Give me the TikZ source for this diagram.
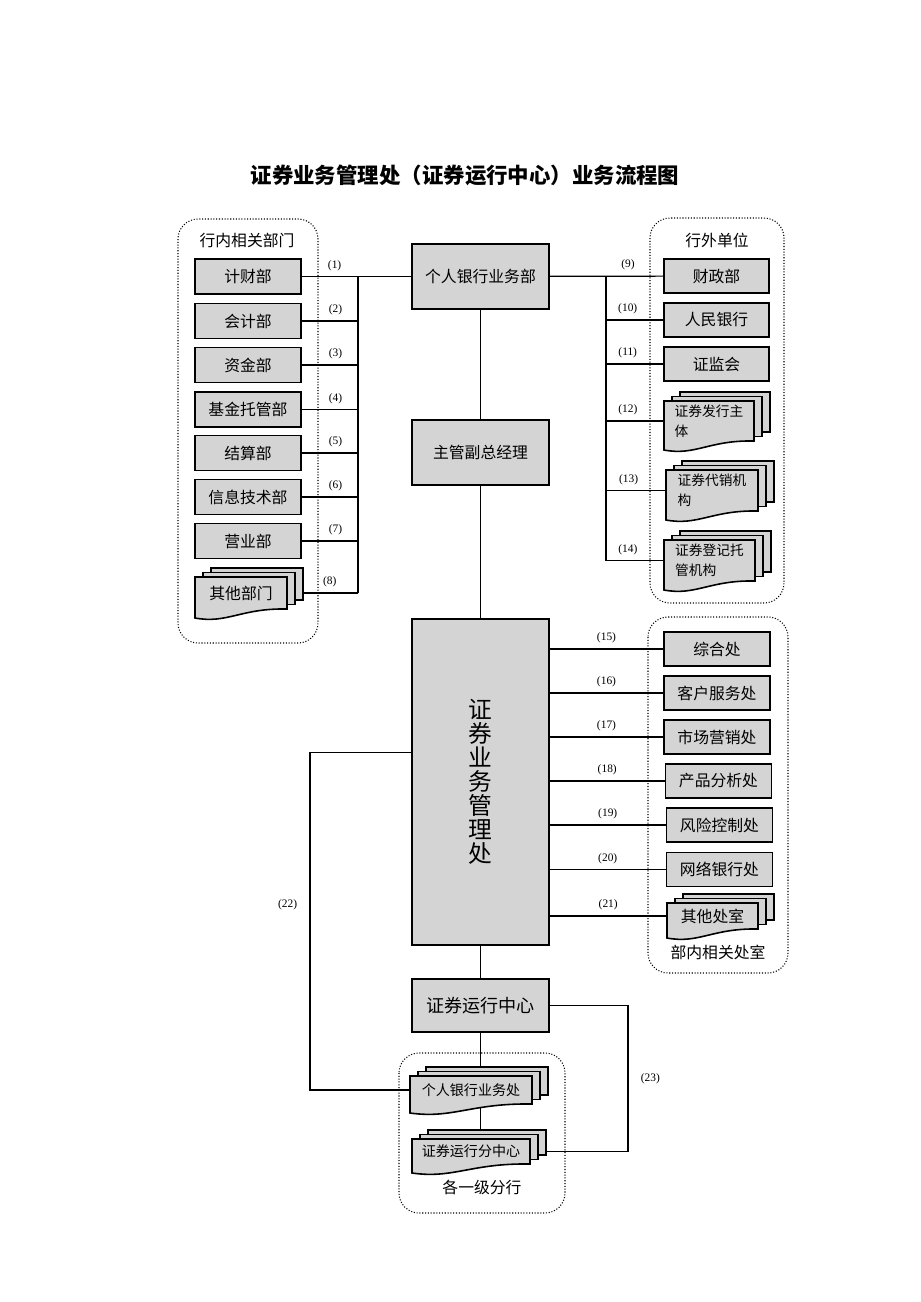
\documentclass[tikz,border=0pt]{standalone}
\usepackage{fontspec}
\setmainfont{Noto Sans CJK SC}
\newfontfamily\numfont{Liberation Serif}
\usepackage{tikz}
\usetikzlibrary{backgrounds, calc}

\tikzset{
  box/.style={draw, line width=0.9pt, fill=black!17, minimum width=2.12cm, minimum height=0.7cm, inner sep=1pt, font=\fontsize{9}{11}\selectfont},
  bigbox/.style={box, minimum width=2.74cm, minimum height=1.3cm},
  sheet/.style={draw, line width=0.9pt, fill=black!17},
  sheettext/.style={inner sep=0pt, align=left, font=\fontsize{9}{11}\selectfont},
  link/.style={line width=0.7pt},
  lab/.style={font=\numfont\fontsize{6.5}{8}\selectfont, inner sep=1pt},
  grp/.style={densely dotted, line width=0.6pt, rounded corners=0.4cm},
  grptitle/.style={font=\fontsize{9}{11}\selectfont},
}

% pilha de documentos: [fonte]{nome}{x1}{y1}{x2}{y2}{texto}
\newcommand{\docstack}[7][]{%
  \foreach \k in {2,1}
    \filldraw[sheet] ({#3+8*\k},{#4-4.5*\k}) rectangle ({#5+8*\k},{#6-9-4.5*\k});
  \filldraw[sheet] (#3,#4) -- (#5,#4) -- (#5,#6-9)
    .. controls ({#5-0.5*(#5-#3)},{#6-10}) and ({#3+0.35*(#5-#3)},{#6+6}) .. (#3,#6) -- cycle;
  \node[sheettext, minimum width={(#5-#3)*0.02cm}, #1] (#2) at ({(#3+#5)/2},{(#4+#6-9)/2}) {#7};
  \coordinate (#2-e) at ({#5+16},{(#4+#6-9)/2});
}

\begin{document}
\begin{tikzpicture}[x=0.02cm, y=-0.02cm]
  \useasboundingbox (0,0) rectangle (920,1302);

  % Titulo
  \node[font=\fontsize{12.2}{14}\selectfont\bfseries] (title) at (465,175) {证券业务管理处（证券运行中心）业务流程图};

  % Grupos pontilhados
  \draw[grp] (178,219) rectangle (318,643);
  \draw[grp] (650,218) rectangle (784,603);
  \draw[grp] (648,617) rectangle (788,973);
  \draw[grp] (399,1053) rectangle (565,1213);
  \node[grptitle] (gin) at (247,240) {行内相关部门};
  \node[grptitle] (gout) at (717,240) {行外单位};
  \node[grptitle] (gdep) at (718,952) {部内相关处室};
  \node[grptitle] (gbr) at (482,1187) {各一级分行};

  % Coluna central
  \node[bigbox] (prb) at (480.5,276.5) {个人银行业务部};
  \node[bigbox] (vgm) at (480.5,452.5) {主管副总经理};
  \node[bigbox, minimum height=6.52cm, align=center, font=\fontsize{13.5}{13.7}\selectfont] (zgc) at (480.5,782) {证\\券\\业\\务\\管\\理\\处};
  \node[bigbox, minimum height=1.06cm, font=\fontsize{10.3}{12}\selectfont] (yxzx) at (480.5,1005.5) {证券运行中心};

  % Departamentos do banco
  \foreach \n/\t/\y in {jcb/计财部/276.5, kjb/会计部/321, zjb/资金部/365, jjtg/基金托管部/409.5, jsb/结算部/453, xxjs/信息技术部/497, yyb/营业部/541}
    \node[box] (\n) at (248,\y) {\t};
  \docstack{qtbm}{195}{577}{287}{618}{其他部门}

  % Unidades externas
  \foreach \n/\t/\y in {czb/财政部/276, rmyh/人民银行/320, zjh/证监会/364}
    \node[box, minimum width=2.1cm, minimum height=0.68cm] (\n) at (716.5,\y) {\t};
  \docstack[font=\fontsize{7.8}{11.3}\selectfont]{fxzt}{664}{401}{754}{450}{证券发行主\\体}
  \docstack[font=\fontsize{7.8}{11.3}\selectfont]{dxjg}{666}{470}{758}{520}{证券代销机\\构}
  \docstack[font=\fontsize{7.8}{11.3}\selectfont]{djtg}{664}{540}{755}{590}{证券登记托\\管机构}

  % Secoes do departamento
  \foreach \n/\t/\x/\y in {zhc/综合处/717/649, khfw/客户服务处/717/693, scyx/市场营销处/717/737, cpfx/产品分析处/718.5/781, fxkz/风险控制处/719.5/825, wlyh/网络银行处/719.5/869.5}
    \node[box, minimum height=0.68cm] (\n) at (\x,\y) {\t};
  \docstack{qtcs}{667}{903}{758}{938}{其他处室}

  % Agencias
  \docstack[font=\fontsize{8}{10}\selectfont]{grb}{410}{1076}{532}{1113}{个人银行业务处}
  \docstack[font=\fontsize{8}{10}\selectfont]{fzx}{412}{1139}{530}{1173}{证券运行分中心}

  % Pontos auxiliares
  \coordinate (lbus) at (358,0);
  \coordinate (rbus) at (606,0);
  \coordinate (lft) at (310,0);
  \coordinate (rgt) at (628,0);
  \coordinate (p22) at ($(zgc.north west)!0.41!(zgc.south west)$);

  % Ligacoes
  \begin{scope}[on background layer]
    \draw[link] (jcb) -- (prb) node[lab, above=2pt, pos=0.3] {(1)};
    \draw[link] (jcb -| lbus) -- (qtbm -| lbus);
    \foreach \n/\i in {kjb/2, zjb/3, jjtg/4, jsb/5, xxjs/6, yyb/7, qtbm/8}
      \draw[link] (\n) -- (\n -| lbus) node[lab, above=2pt, pos=0.6] {(\i)};

    \draw[link] (prb) -- (czb) node[lab, above=2pt, pos=0.69] {(9)};
    \draw[link] (prb -| rbus) -- (djtg -| rbus);
    \foreach \n/\i in {rmyh/10, zjh/11, fxzt/12, dxjg/13, djtg/14}
      \draw[link] (\n -| rbus) -- (\n) node[lab, above=2pt, pos=0.38] {(\i)};

    \draw[link] (prb) -- (vgm) -- (zgc) -- (yxzx) -- (yxzx |- grb) -- (yxzx |- fzx);

    \foreach \n/\i in {zhc/15, khfw/16, scyx/17, cpfx/18, fxkz/19, wlyh/20, qtcs/21}
      \draw[link] (\n -| zgc.east) -- (\n) node[lab, above=2pt, pos=0.5] {(\i)};

    \draw[link] (p22) -- (p22 -| lft) -- (lft |- grb) node[lab, left=6pt, pos=0.45] {(22)} -- (grb);
    \draw[link] (yxzx) -- (yxzx -| rgt) -- (rgt |- fzx-e) node[lab, right=6pt, midway] {(23)} -- (fzx);
  \end{scope}

\end{tikzpicture}
\end{document}
